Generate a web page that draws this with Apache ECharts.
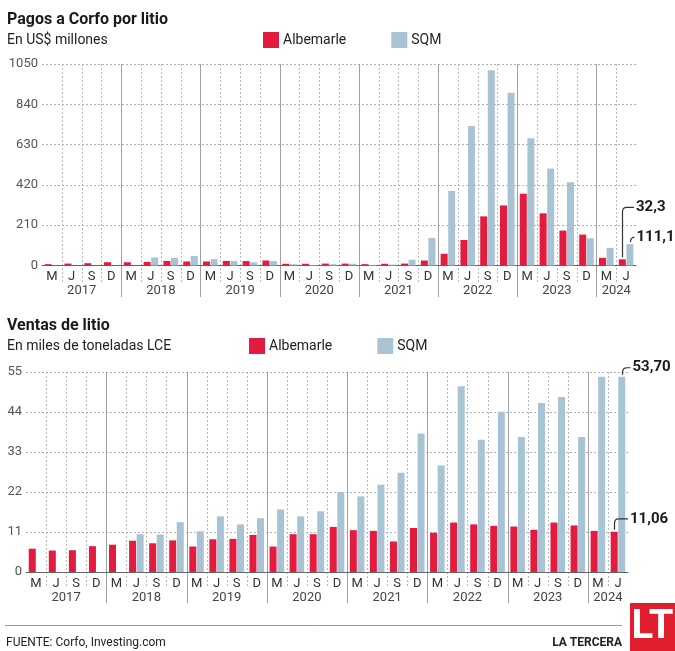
<!DOCTYPE html>
<html>
<head>
<meta charset="utf-8">
<script src="https://cdn.jsdelivr.net/npm/echarts@6/dist/echarts.min.js"></script>
<style>
  html, body { margin: 0; padding: 0; background: #fff; }
  #chart { width: 675px; height: 651px; }
</style>
</head>
<body>
<div id="chart"></div>
<script>
// periodos trimestrales (M = marzo, J = junio, S = septiembre, D = diciembre)
const periods = [
  'M 2017', 'J 2017', 'S 2017', 'D 2017',
  'M 2018', 'J 2018', 'S 2018', 'D 2018',
  'M 2019', 'J 2019', 'S 2019', 'D 2019',
  'M 2020', 'J 2020', 'S 2020', 'D 2020',
  'M 2021', 'J 2021', 'S 2021', 'D 2021',
  'M 2022', 'J 2022', 'S 2022', 'D 2022',
  'M 2023', 'J 2023', 'S 2023', 'D 2023',
  'M 2024', 'J 2024'
];

// Pagos a Corfo, US$ millones
const albemarlePagos = [7, 10, 12, 17, 17, 19, 24, 21, 21, 24, 23, 26, 9, 9, 10, 10,
  7, 9, 10, 26, 61, 133, 256, 313, 374, 272, 182, 161, 40, 32.3];
const sqmPagos = [0, 0, 0, 0, 0, 42, 40, 50, 33, 23, 17, 23, 7, 3, 7, 9,
  3, 5, 30, 143, 389, 727, 1017, 900, 663, 505, 434, 142, 92, 111.1];
const pagosTicks = [0, 210, 420, 630, 840, 1050];

// Ventas, miles de toneladas LCE
const albemarleVentas = [6.4, 5.9, 6.0, 7.1, 7.5, 8.6, 7.9, 8.7, 7.0, 9.0, 9.1, 10.2, 7.0, 10.4, 10.4, 12.4,
  11.5, 11.3, 8.4, 12.1, 10.8, 13.6, 13.1, 12.7, 12.5, 11.6, 13.6, 12.8, 11.3, 11.06];
const sqmVentas = [0, 0, 0, 0, 0, 10.4, 10.3, 13.7, 11.2, 15.3, 13.1, 14.8, 17.2, 15.3, 16.7, 22.0,
  20.8, 24.0, 27.3, 38.1, 29.3, 51.1, 36.4, 44.1, 37.1, 46.5, 48.1, 37.1, 53.7, 53.70];
const ventasTicks = [0, 11, 22, 33, 44, 55];

const RED = '#e31b3f';
const BLUE = '#a8c3d3';
const FONT = 'Roboto';

// indice donde va la etiqueta del año (centro del año)
const yearMid = [];
const byYear = {};
periods.forEach((p, i) => {
  const y = p.split(' ')[1];
  (byYear[y] = byYear[y] || []).push(i);
});
Object.values(byYear).forEach(idx => yearMid.push(idx[idx.length / 2 - 1]));

function quarterAxis(grid) {
  return {
    type: 'category', gridIndex: grid, data: periods, position: 'bottom',
    axisLine: { lineStyle: { color: '#666', width: 1 } },
    axisTick: { show: false },
    splitLine: { show: false },
    axisLabel: {
      interval: 0, margin: 5, fontSize: 13, color: '#333', fontFamily: FONT,
      formatter: v => v.split(' ')[0]
    }
  };
}

function yearAxis(grid) {
  return {
    type: 'category', gridIndex: grid, data: periods, position: 'bottom',
    axisLine: { show: false }, axisTick: { show: false }, splitLine: { show: false },
    axisLabel: {
      interval: (i) => yearMid.includes(i),
      margin: 19, fontSize: 13, color: '#444', fontFamily: FONT,
      padding: [0, 0, 0, 20],
      formatter: v => v.split(' ')[1]
    }
  };
}

function valueAxis(grid, ticks) {
  return {
    type: 'value', gridIndex: grid,
    min: ticks[0], max: ticks[ticks.length - 1], interval: ticks[1] - ticks[0],
    axisLine: { show: false }, axisTick: { show: false },
    axisLabel: { margin: 4, fontSize: 13, color: '#555', fontFamily: FONT, formatter: v => String(v) },
    splitLine: { lineStyle: { color: '#b0b0b0', type: [2, 2] } }
  };
}

function barSeries(name, color, data, xi, yi) {
  return {
    name, type: 'bar', xAxisIndex: xi, yAxisIndex: yi, data,
    barWidth: 7, barGap: '8%', itemStyle: { color }, silent: true
  };
}

const chart = echarts.init(document.getElementById('chart'));

chart.setOption({
  animation: false,
  textStyle: { fontFamily: FONT },
  title: [
    {
      text: 'Pagos a Corfo por litio', subtext: 'En US$ millones',
      left: 7, top: 12, padding: 0, itemGap: 5,
      textStyle: { fontSize: 16, fontWeight: 'bold', color: '#1a1a1a', lineHeight: 16, fontFamily: FONT },
      subtextStyle: { fontSize: 14, color: '#222', lineHeight: 14, fontFamily: FONT }
    },
    {
      text: 'Ventas de litio', subtext: 'En miles de toneladas LCE',
      left: 7, top: 318, padding: 0, itemGap: 5,
      textStyle: { fontSize: 16, fontWeight: 'bold', color: '#1a1a1a', lineHeight: 16, fontFamily: FONT },
      subtextStyle: { fontSize: 14, color: '#222', lineHeight: 14, fontFamily: FONT }
    }
  ],
  legend: [
    {
      data: ['Albemarle', 'SQM'], left: 263, top: 32, padding: 0,
      icon: 'rect', itemWidth: 16, itemHeight: 16, itemGap: 45, selectedMode: false,
      textStyle: { fontSize: 14, color: '#222', padding: [0, 0, 0, -1] }
    },
    {
      data: ['Albemarle', 'SQM'], left: 249, top: 338, padding: 0,
      icon: 'rect', itemWidth: 16, itemHeight: 16, itemGap: 45, selectedMode: false,
      textStyle: { fontSize: 14, color: '#222', padding: [0, 0, 0, -1] }
    }
  ],
  grid: [
    { left: 42, right: 39, top: 64, bottom: 385.5 },
    { left: 26, right: 47, top: 372, bottom: 79 }
  ],
  xAxis: [quarterAxis(0), yearAxis(0), quarterAxis(1), yearAxis(1)],
  yAxis: [valueAxis(0, pagosTicks), valueAxis(1, ventasTicks)],
  series: [
    barSeries('Albemarle', RED, albemarlePagos, 0, 0),
    barSeries('SQM', BLUE, sqmPagos, 0, 0),
    barSeries('Albemarle', RED, albemarleVentas, 2, 1),
    barSeries('SQM', BLUE, sqmVentas, 2, 1)
  ]
});

// separadores verticales: punteados por trimestre, sólidos por año
function separators(xi, yi, ticks, tickLen, yearLen) {
  const out = [];
  const top = chart.convertToPixel({ yAxisIndex: yi }, ticks[ticks.length - 1]);
  const base = chart.convertToPixel({ yAxisIndex: yi }, 0);
  for (let i = 1; i < periods.length; i++) {
    const a = chart.convertToPixel({ xAxisIndex: xi }, periods[i - 1]);
    const b = chart.convertToPixel({ xAxisIndex: xi }, periods[i]);
    const x = Math.round((a + b) / 2) + 0.5;
    const newYear = periods[i].startsWith('M');
    out.push({
      type: 'line', silent: true, z: 0,
      shape: { x1: x, y1: top, x2: x, y2: base + (newYear ? yearLen : tickLen) },
      style: newYear
        ? { stroke: '#a0a0a0', lineWidth: 1 }
        : { stroke: '#b8b8b8', lineWidth: 1, lineDash: [2, 2] }
    });
  }
  return out;
}

// etiqueta con línea guía sobre la última barra
function callout(xi, yi, value, barDx, labelDy, textDx, text) {
  const last = periods[periods.length - 1];
  const bx = Math.round(chart.convertToPixel({ xAxisIndex: xi }, last) + barDx) + 0.5;
  const by = chart.convertToPixel({ yAxisIndex: yi }, value);
  const ly = by + labelDy;
  const tx = bx + textDx;
  const r = 4;
  return [
    {
      type: 'polyline', silent: true, z: 10,
      shape: {
        points: [[bx, by - 2], [bx, ly + r], [bx + 0.6, ly + 1.8], [bx + 1.8, ly + 0.6], [bx + r, ly], [tx - 2, ly]]
      },
      style: { fill: null, stroke: '#333', lineWidth: 1.2 }
    },
    {
      type: 'text', silent: true, z: 10, x: tx, y: ly,
      style: { text, fontSize: 15, fontWeight: 'bold', fontFamily: FONT, fill: '#1a1a1a', verticalAlign: 'middle' }
    }
  ];
}

const lastIdx = periods.length - 1;
const graphics = [
  ...separators(0, 0, pagosTicks, 17, 31.5),
  ...separators(2, 1, ventasTicks, 16, 31),
  ...callout(0, 0, albemarlePagos[lastIdx], -4, -52, 13.5, '32,3'),
  ...callout(0, 0, sqmPagos[lastIdx], 4, -7, 6, '111,1'),
  ...callout(2, 1, sqmVentas[lastIdx], 4, -9, 10, '53,70'),
  ...callout(2, 1, albemarleVentas[lastIdx], -4, -13, 15.5, '11,06'),
  {
    type: 'line', silent: true,
    shape: { x1: 5, y1: 625.5, x2: 622, y2: 625.5 },
    style: { stroke: '#9a9a9a', lineWidth: 1 }
  },
  {
    type: 'text', silent: true, x: 6, y: 643,
    style: { text: 'FUENTE: Corfo, Investing.com', fontSize: 12, fontFamily: FONT, fill: '#222', verticalAlign: 'middle' }
  },
  {
    type: 'text', silent: true, x: 622, y: 643,
    style: { text: 'LA TERCERA', fontSize: 12, fontWeight: 'bold', fontFamily: FONT, fill: '#222', align: 'right', verticalAlign: 'middle' }
  },
  {
    type: 'rect', silent: true,
    shape: { x: 630, y: 603, width: 45, height: 48 },
    style: { fill: '#e01e2e' }
  },
  {
    type: 'text', silent: true, x: 652.5, y: 628,
    style: { text: 'LT', fontSize: 40, fontWeight: 'bold', fontFamily: FONT, fill: '#fff', align: 'center', verticalAlign: 'middle' }
  }
];

chart.setOption({ graphic: graphics });
</script>
</body>
</html>
